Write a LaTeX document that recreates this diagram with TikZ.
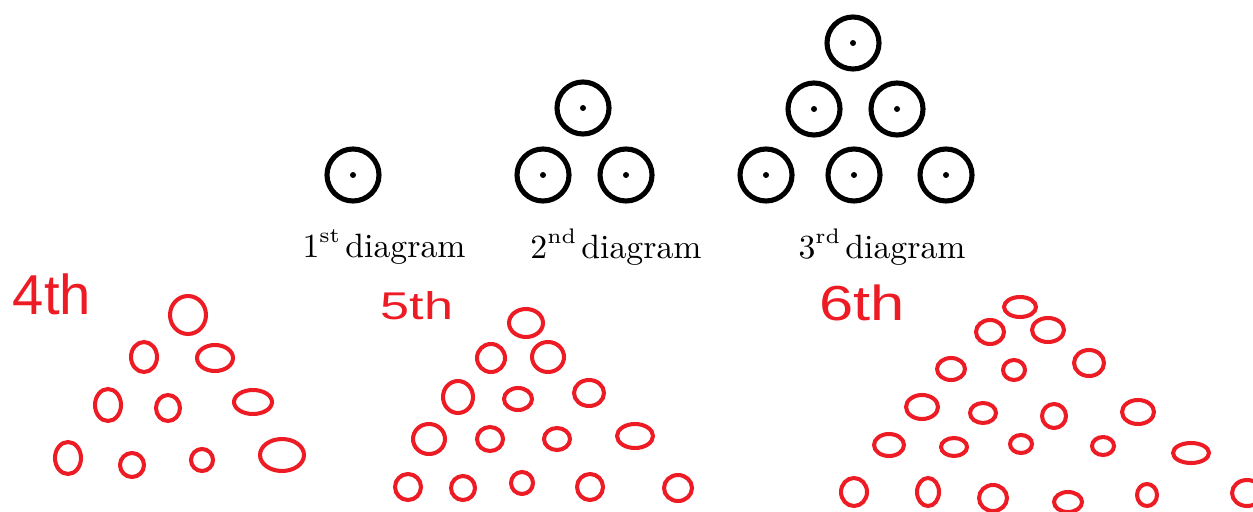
\documentclass[tikz,border=0pt]{standalone}
\usepackage{fontspec}
\newfontfamily\manofont{Liberation Sans}
\definecolor{penna}{RGB}{237,28,36}
\tikzset{
  moneta/.style={line width=1.45pt},
  schizzo/.style={penna, line width=1.15pt, line cap=round},
  etichetta/.style={font=\fontsize{9.6}{12}\selectfont, inner sep=0pt},
  numero/.style={penna, inner sep=0pt},
}
\newcommand{\apice}[1]{\raisebox{0.45em}{\fontsize{6}{7}\selectfont #1}}

\begin{document}
\begin{tikzpicture}[x=0.1mm, y=-0.1mm]
    \useasboundingbox (0,0) rectangle (1253,511);
    \clip (0,0) rectangle (1253,511);

    % cerchi neri
    \foreach \x/\y in {353/175, 583/108, 543/175, 626/175,
                       853/43, 814/109, 897/109, 766/175, 854/175, 946/175} {
        \draw[moneta] (\x,\y) circle (26);
        \fill (\x,\y) circle (3);
    }

    % etichette
    \node[etichetta] (d1) at (384,247) {1\apice{st}\,diagram};
    \node[etichetta] (d2) at (616,247) {2\apice{nd}\,diagram};
    \node[etichetta] (d3) at (882,247) {3\apice{rd}\,diagram};

    % scritte a mano
    \node[numero, font=\manofont\fontsize{16}{18}\selectfont] (n4) at (52,294) {4th};
    \node[numero, font=\manofont\fontsize{11}{13}\selectfont, xscale=1.35, transform shape] (n5) at (417,306) {5th};
    \node[numero, font=\manofont\fontsize{14}{16}\selectfont, xscale=1.25, transform shape] (n6) at (862,303) {6th};

    % 4th
    \foreach \x/\y/\a/\b in {188/315/18/19, 144/357/13/15, 215/358/18/13,
                             108/405/13/16, 168/408/12/13, 253/402/19/12,
                             68/458/13/16, 132/465/12/12, 202/460/11/11, 282/455/22/16} {
        \draw[schizzo] (\x,\y) ellipse [x radius=\a, y radius=\b];
    }

    % 5th
    \foreach \x/\y/\a/\b in {526/323/17/14,
                             491/358/14/14, 548/357/16/15,
                             458/397/15/16, 518/399/14/11, 589/393/15/13,
                             429/439/16/15, 490/439/13/12, 557/439/13/11, 635/436/18/12,
                             408/487/13/13, 463/488/12/12, 522/483/11/11, 590/487/13/13, 678/488/14/13} {
        \draw[schizzo] (\x,\y) ellipse [x radius=\a, y radius=\b];
    }

    % 6th
    \foreach \x/\y/\a/\b in {1020/307/16/10,
                             990/332/14/12, 1048/330/16/12,
                             951/369/14/11, 1014/370/11/10, 1089/363/15/13,
                             922/407/16/12, 983/413/13/10, 1054/416/12/12, 1138/412/16/12,
                             889/445/15/11, 954/447/13/9, 1021/444/11/9, 1103/446/11/9, 1191/453/18/10,
                             854/492/13/14, 928/492/11/14, 993/498/14/13, 1068/502/14/10, 1147/495/10/11, 1247/493/15/13} {
        \draw[schizzo] (\x,\y) ellipse [x radius=\a, y radius=\b];
    }
\end{tikzpicture}
\end{document}
